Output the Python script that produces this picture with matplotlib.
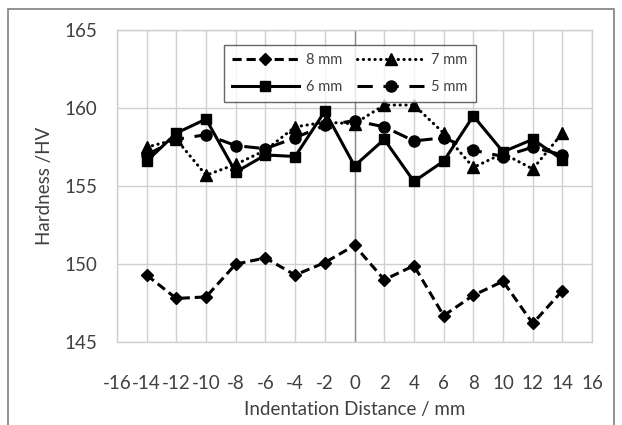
import matplotlib
matplotlib.use("Agg")
import matplotlib.pyplot as plt
from matplotlib.patches import Rectangle

x = [-14, -12, -10, -8, -6, -4, -2, 0, 2, 4, 6, 8, 10, 12, 14]
hv_8mm = [149.3, 147.8, 147.9, 150.0, 150.4, 149.3, 150.1, 151.2, 149.0, 149.9, 146.7, 148.0, 148.9, 146.2, 148.3]
hv_7mm = [157.5, 158.0, 155.7, 156.4, 157.3, 158.8, 159.1, 159.0, 160.2, 160.2, 158.4, 156.2, 157.1, 156.1, 158.4]
hv_6mm = [156.6, 158.4, 159.3, 155.9, 157.0, 156.9, 159.8, 156.3, 158.0, 155.3, 156.6, 159.5, 157.2, 158.0, 156.7]
hv_5mm = [157.0, 158.0, 158.3, 157.6, 157.4, 158.1, 158.9, 159.2, 158.8, 157.9, 158.1, 157.3, 156.9, 157.5, 157.0]
labels = ["8 mm", "7 mm", "6 mm", "5 mm"]
xticks = list(range(-16, 17, 2))
yticks = [145, 150, 155, 160, 165]

plt.rcParams['font.family'] = ['Lato', 'DejaVu Sans']
plt.rcParams['axes.unicode_minus'] = False

fig = plt.figure(figsize=(6.22, 4.25), dpi=100)
fig.patches.append(Rectangle((0.013, -0.05), 0.974, 1.03, transform=fig.transFigure,
                             fill=False, edgecolor='#7f7f7f', linewidth=1.2))
ax = fig.add_axes([0.188, 0.195, 0.764, 0.734])

grid_c = '#d0d0d0'
ax.set_xlim(-16, 16)
ax.set_ylim(145, 165)
ax.set_xticks(xticks)
ax.set_yticks(yticks)
ax.grid(True, color=grid_c, linewidth=1.0)
ax.set_axisbelow(True)
for s in ax.spines.values():
    s.set_color(grid_c)
    s.set_linewidth(1.0)
ax.axvline(0, color='#8c8c8c', linewidth=1.0, zorder=1)
ax.tick_params(length=0, labelsize=13.5, labelcolor='#404040')
ax.tick_params(axis='x', pad=24)
ax.tick_params(axis='y', pad=14)

lw = 2.2
ax.plot(x, hv_8mm, color='black', lw=lw, linestyle=(0, (3, 1.6)), marker='D', ms=6.5, label=labels[0], zorder=3)
ax.plot(x, hv_7mm, color='black', lw=lw, linestyle=(0, (0.1, 1.8)), dash_capstyle='round', marker='^', ms=8, label=labels[1], zorder=3)
ax.plot(x, hv_6mm, color='black', lw=lw, linestyle='-', marker='s', ms=7.5, label=labels[2], zorder=3)
ax.plot(x, hv_5mm, color='black', lw=lw, linestyle=(0, (5, 3.5)), marker='o', ms=8, label=labels[3], zorder=3)

handles, labs = ax.get_legend_handles_labels()
order = [0, 2, 1, 3]
leg = ax.legend([handles[i] for i in order], [labs[i] for i in order], ncol=2,
                loc='upper center', bbox_to_anchor=(0.49, 0.975), fontsize=10.5,
                handlelength=4.6, columnspacing=1.0, handletextpad=0.5,
                frameon=True, fancybox=False, edgecolor='#404040', borderpad=0.55,
                labelspacing=0.85)
leg.get_frame().set_linewidth(1.0)
for t in leg.get_texts():
    t.set_color('#404040')

ax.set_xlabel('Indentation Distance / mm', fontsize=13.5, color='#404040', labelpad=6)
ax.set_ylabel('Hardness /HV', fontsize=13.5, color='#404040', labelpad=8)

fig.savefig('out.png', dpi=100)
